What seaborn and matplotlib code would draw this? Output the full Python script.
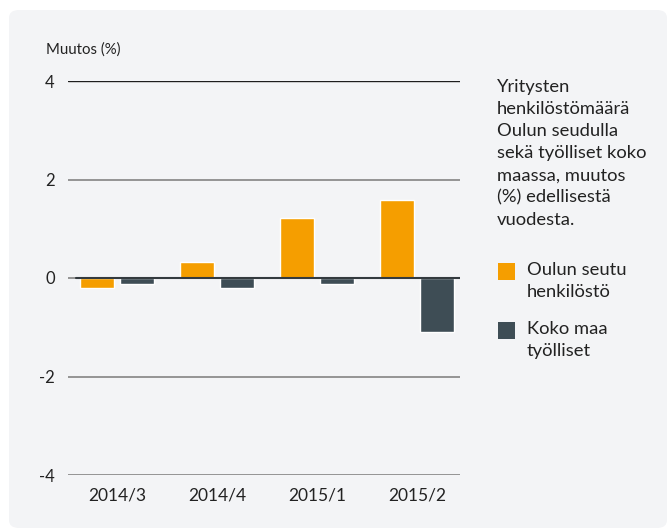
import matplotlib
matplotlib.use("Agg")
import matplotlib.pyplot as plt
from matplotlib.patches import FancyBboxPatch, Rectangle
import seaborn as sns
import pandas as pd

# Data
jaksot = ["2014/3", "2014/4", "2015/1", "2015/2"]
oulu_henkilosto = [-0.2, 0.32, 1.21, 1.58]
koko_maa_tyolliset = [-0.12, -0.2, -0.12, -1.1]
sarjat = ["Oulun seutu henkilöstö", "Koko maa työlliset"]
legend_labels = ["Oulun seutu\nhenkilöstö", "Koko maa\ntyölliset"]
y_ticks = [-4, -2, 0, 2, 4]
colors = ["#f59e00", "#3e4d55"]

info_text = ("Yritysten\nhenkilöstömäärä\nOulun seudulla\nsekä työlliset koko\n"
             "maassa, muutos\n(%) edellisestä\nvuodesta.")

df = pd.DataFrame({
    "jakso": jaksot * 2,
    "muutos": oulu_henkilosto + koko_maa_tyolliset,
    "sarja": [sarjat[0]] * 4 + [sarjat[1]] * 4,
})

sns.set_theme(style="white")
plt.rcParams["font.family"] = ["Lato", "DejaVu Sans"]
text_color = "#222222"

W, H = 668, 529
fig = plt.figure(figsize=(W / 100, H / 100), dpi=100, facecolor="white")

# rounded light background panel
bg = FancyBboxPatch((9 / W, 1 - 528 / H), 658 / W, 518 / H,
                    boxstyle="round,pad=0,rounding_size=0.015",
                    transform=fig.transFigure, facecolor="#f3f4f6",
                    edgecolor="none", zorder=0)
fig.add_artist(bg)

ax = fig.add_axes([68 / W, 1 - 475 / H, 392 / W, 394 / H])
ax.set_facecolor("none")

sns.barplot(data=df, x="jakso", y="muutos", hue="sarja", palette=colors,
            width=0.8, gap=0.15, legend=False, ax=ax, zorder=3,
            saturation=1)

ax.set_ylim(-4, 4)
ax.set_xlim(-0.49, 3.43)
ax.set_yticks(y_ticks)
ax.set_yticklabels([str(t) for t in y_ticks])
ax.set_xlabel("")
ax.set_ylabel("")
for s in ax.spines.values():
    s.set_visible(False)

# grid lines
for t in y_ticks:
    if t == 4:
        ax.axhline(t, color="#1e1e1e", lw=1.0, zorder=1)
    else:
        ax.axhline(t, color="#8c8c8c", lw=1.3, zorder=1)
ax.axhline(0, xmin=8 / 392, xmax=1, color="#333a3e", lw=1.5, zorder=4)

ax.tick_params(axis="y", length=0, pad=9.5, labelsize=12, labelcolor=text_color)
ax.tick_params(axis="x", length=0, pad=9, labelsize=12.5, labelcolor=text_color)

fig.text(46 / W, 1 - 54 / H, "Muutos (%)", fontsize=10.8, color=text_color,
         va="baseline", ha="left")

fig.text(497 / W, 1 - 79 / H, info_text, fontsize=13.2, color=text_color,
         va="top", ha="left", linespacing=1.47)

# legend squares with labels
leg_y = [263, 322]
for c, lab, y in zip(colors, legend_labels, leg_y):
    fig.add_artist(Rectangle((498 / W, 1 - (y + 17) / H), 17 / W, 17 / H,
                             transform=fig.transFigure, facecolor=c,
                             edgecolor="none"))
    fig.text(527 / W, 1 - (y - 1) / H, lab, fontsize=13.2, color=text_color,
             va="top", ha="left", linespacing=1.47)

fig.savefig("out.png", dpi=100, facecolor="white")
